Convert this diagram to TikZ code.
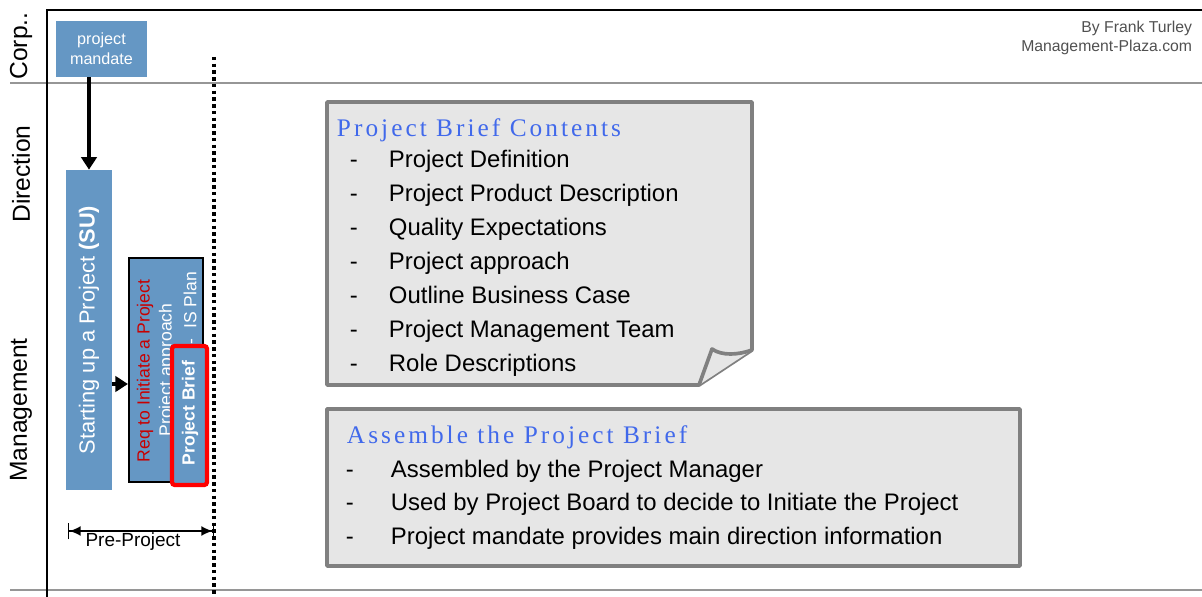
\documentclass[tikz,border=0pt]{standalone}
\usepackage{fontspec}
\setmainfont{Liberation Sans}
\newfontfamily\titlefont[LetterSpace=12]{Liberation Serif}
\usetikzlibrary{arrows.meta}
\definecolor{boxblue}{RGB}{101,151,196}
\definecolor{ripred}{RGB}{200,0,0}
\definecolor{notefill}{RGB}{230,230,230}
\definecolor{noteedge}{RGB}{128,128,128}
\definecolor{titleblue}{RGB}{65,105,235}
\definecolor{lanegray}{RGB}{150,150,150}
\definecolor{bytext}{RGB}{80,80,80}

\begin{document}
\begin{tikzpicture}[x=0.025cm,y=-0.025cm,
  lane/.style={rotate=90,font=\fontsize{17.5}{20}\selectfont},
  bluebox/.style={fill=boxblue,text=white,inner sep=0pt},
  notebox/.style={fill=notefill,draw=noteedge,line width=2.6pt,line join=round},
  notetitle/.style={anchor=west,text=titleblue,font=\titlefont\fontsize{18}{21}\selectfont},
  noteitem/.style={anchor=west,text height=12pt,text depth=3.5pt,font=\fontsize{17}{20}\selectfont},
  flow/.style={line width=2.4pt,-{Triangle[length=9pt,width=11pt]}},
  riptext/.style={rotate=90,font=\fontsize{12.5}{14}\selectfont}]
\useasboundingbox (0,0) rectangle (1202,597);
 \draw[lanegray,line width=1.6pt] (10,83) -- (1202,83);
 \draw[lanegray,line width=1.6pt] (10,590) -- (1202,590);
 \draw[line width=1.8pt] (47,597) -- (47,10) -- (1202,10);
  \node[lane] (corp) at (21,46) {Corp..};
  \node[lane] (dir) at (21,174) {Direction};
  \node[lane] (mgmt) at (21,410) {Management};
 \node[anchor=north east,align=right,text=bytext,font=\fontsize{11.2}{13.5}\selectfont] (by) at (1197,16) {By Frank Turley\\Management-Plaza.com};
 \draw[line width=2.6pt,dash pattern=on 2.4pt off 2.4pt] (214,57) -- (214,597);

 \node[bluebox,minimum width=2.275cm,minimum height=1.4cm,align=center,font=\fontsize{11.5}{14}\selectfont] (mandate) at (101.5,49) {project\\mandate};
 \node[bluebox,minimum width=8cm,minimum height=1.15cm,rotate=90,font=\fontsize{15.5}{18}\selectfont] (su) at (89,330) {Starting up a Project \textbf{(SU)}};
 \node[bluebox,draw=black,line width=1.5pt,minimum width=1.85cm,minimum height=5.6cm] (rip) at (166,370) {};
 \node[riptext,text=ripred] (req) at (145,371) {Req to Initiate a Project};
 \node[riptext,text=white] (appr) at (167,370) {Project approach};
 \node[riptext,text=white] (isplan) at (190,308) {-\ \ IS Plan};
 \node[draw=red,fill=boxblue,line width=3pt,rounded corners=2pt,minimum width=0.875cm,minimum height=3.475cm,inner sep=0pt] (brief) at (189.5,415.5) {};
 \node[riptext,text=white,font=\bfseries\fontsize{12.5}{14}\selectfont] (brieftext) at (190,413) {Project Brief};
 \coordinate (tap) at (112,384);
 \draw[flow] (mandate.south -| su.east) -- (su.east);
 \draw[flow] (su.south |- tap) -- (rip.west |- tap);

 \coordinate (pstart) at (68,531);
 \coordinate (pend) at (214,531);
 \draw[line width=1pt,{Bar[width=12pt]Latex[length=8pt,width=7pt]}-{Latex[length=8pt,width=7pt]Bar[width=12pt]}] (pstart) -- (pend);
 \node[font=\fontsize{13.5}{15}\selectfont] (pre) at (133,542) {Pre-Project};

 \draw[notebox] (327,102) -- (752,102) -- (752,350) -- (699,385) -- (327,385) -- cycle;
 \draw[notebox] (699,385) -- (712,349) .. controls (722,356) and (738,355) .. (752,350);
 \node[notetitle] (contents) at (332,130) {Project Brief Contents};
 \foreach \txt [count=\i] in {Project Definition,Project Product Description,Quality Expectations,Project approach,Outline Business Case,Project Management Team,Role Descriptions}{
   \node[noteitem] (cd\i) at (345,128+\i*34) {-};
   \node[noteitem] (ci\i) at (384,128+\i*34) {\txt};
 }

 \draw[notebox] (327,409) rectangle (1020,566);
 \node[notetitle] (assemble) at (342,437) {Assemble the Project Brief};
 \foreach \txt [count=\i] in {Assembled by the Project Manager,Used by Project Board to decide to Initiate the Project,Project mandate provides main direction information}{
   \node[noteitem] (ad\i) at (341,438+\i*33.5) {-};
   \node[noteitem] (ai\i) at (386,438+\i*33.5) {\txt};
 }
\end{tikzpicture}
\end{document}
